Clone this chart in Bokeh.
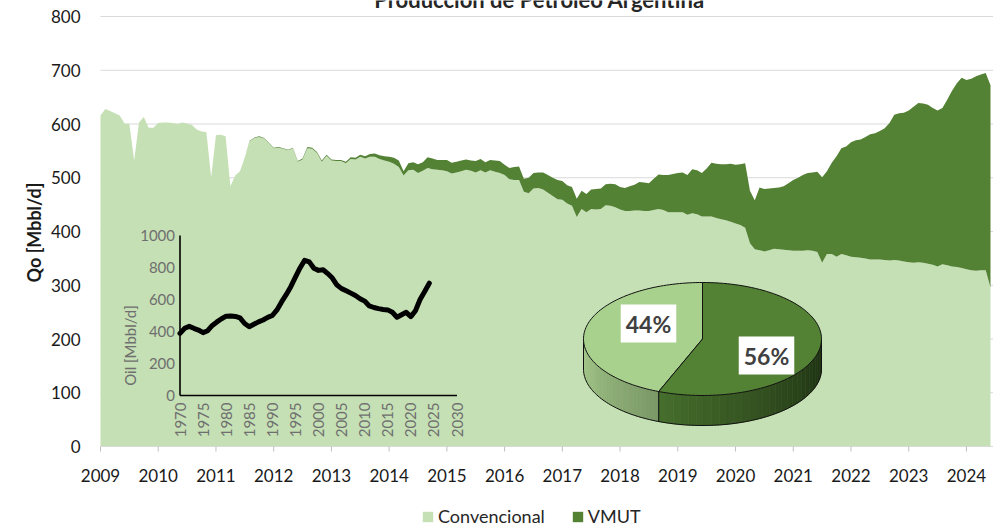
import numpy as np
from bokeh.plotting import figure
from bokeh.models import Range1d, Legend, LegendItem, Label
from bokeh.core.properties import value
from bokeh.embed import file_html
from bokeh.resources import INLINE

FONT = "Lato"

# ---------------- data ----------------
# monthly production, Mbbl/d, Jan-2009 .. Jun-2024
total = [
    616, 628, 624, 620, 616, 601, 600, 532, 603, 613, 593, 593,   # 2009
    602, 603, 603, 602, 600, 603, 601, 598, 590, 586, 585, 501,   # 2010
    579, 580, 577, 484, 504, 512, 538, 569, 575, 577, 574, 565,   # 2011
    556, 557, 555, 552, 556, 531, 536, 557, 556, 548, 532, 543,   # 2012
    534, 533, 533, 530, 538, 537, 543, 540, 544, 545, 542, 540,   # 2013
    539, 537, 532, 512, 527, 529, 525, 529, 538, 536, 533, 533,   # 2014
    533, 528, 530, 532, 534, 532, 531, 535, 529, 533, 532, 531,   # 2015
    524, 518, 520, 521, 498, 500, 509, 510, 510, 505, 500, 496,   # 2016
    494, 486, 483, 461, 476, 470, 478, 479, 480, 488, 489, 488,   # 2017
    483, 481, 484, 487, 492, 491, 490, 498, 506, 505, 505, 507,   # 2018
    509, 510, 505, 516, 514, 509, 517, 528, 526, 525, 525, 526,   # 2019
    524, 525, 527, 476, 458, 482, 479, 480, 481, 482, 484, 490,   # 2020
    496, 500, 505, 509, 510, 511, 501, 512, 528, 540, 555, 558,   # 2021
    566, 570, 571, 576, 581, 583, 587, 592, 602, 617, 620, 621,   # 2022
    625, 632, 639, 638, 636, 630, 625, 630, 645, 662, 676, 686,   # 2023
    682, 684, 689, 692, 695, 672,                                 # 2024
]
convencional = [
    616, 628, 624, 620, 616, 601, 600, 532, 603, 613, 593, 593,   # 2009
    602, 603, 603, 602, 600, 603, 601, 598, 590, 586, 585, 501,   # 2010
    579, 580, 577, 484, 504, 512, 538, 568, 574, 576, 573, 564,   # 2011
    555, 556, 554, 551, 555, 530, 534, 555, 554, 546, 530, 541,   # 2012
    532, 531, 531, 527, 535, 534, 539, 536, 539, 539, 535, 532,   # 2013
    530, 526, 520, 504, 514, 515, 509, 513, 518, 516, 515, 514,   # 2014
    512, 508, 510, 512, 515, 513, 510, 514, 510, 514, 511, 509,   # 2015
    505, 497, 496, 496, 474, 471, 480, 481, 478, 472, 466, 460,   # 2016
    459, 452, 448, 427, 442, 436, 442, 441, 442, 449, 448, 445,   # 2017
    441, 438, 438, 439, 439, 438, 438, 440, 442, 440, 436, 436,   # 2018
    436, 436, 431, 434, 432, 428, 428, 428, 425, 423, 421, 418,   # 2019
    415, 412, 407, 378, 367, 365, 363, 365, 368, 367, 366, 365,   # 2020
    364, 364, 364, 365, 364, 362, 342, 358, 358, 353, 358, 356,   # 2021
    353, 352, 351, 350, 348, 348, 348, 347, 346, 347, 346, 344,   # 2022
    343, 342, 343, 342, 340, 338, 335, 339, 337, 335, 334, 332,   # 2023
    330, 328, 327, 328, 328, 296,                                 # 2024
]
start_year = 2009
x_tick_years = list(range(2009, 2025))
y_ticks = list(range(0, 801, 100))

# inset: historical Argentina oil production, Mbbl/d
inset_years = list(range(1970, 2025))
inset_oil = [
    388, 420, 432, 420, 409, 393, 405, 438, 460, 480,
    496, 497, 494, 485, 450, 430, 445, 460, 472, 488,
    500, 535, 585, 630, 680, 740, 797, 845, 835, 795,
    782, 786, 762, 734, 690, 668, 655, 640, 625, 605,
    590, 560, 550, 543, 538, 535, 520, 489, 505, 520,
    493, 530, 600, 650, 702,
]
inset_x_ticks = list(range(1970, 2031, 5))
inset_y_ticks = list(range(0, 1001, 200))

# pie: share of last month
pie_names = ["Convencional", "VMUT"]
pie_values = [44, 56]

title_text = "Producción de Petróleo Argentina"
y_label = "Qo [Mbbl/d]"
inset_y_label = "Oil [Mbbl/d]"

# ---------------- colours ----------------
C_CONV = "#C5E0B4"
C_VMUT = "#548235"
C_PIE_LIGHT = "#A9D18E"
C_PIE_DARK = "#548235"
C_TEXT = "#1a1a1a"
C_GRID = "#D9D9D9"

# ---------------- geometry (canvas = frame, pixel anchors) ----------------
W, H = 993, 529
PLOT_LEFT, Y0_PIX, Y800_PIX = 100.0, 446.0, 16.0      # from top-left of picture
PX_PER_YEAR = 57.73
PX_PER_UNIT = (Y0_PIX - Y800_PIX) / 800.0

x0 = start_year - PLOT_LEFT / PX_PER_YEAR
x1 = x0 + W / PX_PER_YEAR
y0 = -(H - Y0_PIX) / PX_PER_UNIT
y1 = y0 + H / PX_PER_UNIT

p = figure(width=W, height=H, output_backend="svg", toolbar_location=None,
           title=None, x_range=Range1d(x0, x1), y_range=Range1d(y0, y1),
           x_axis_location=None, y_axis_location=None,
           min_border_left=0, min_border_right=0, min_border_top=0, min_border_bottom=0)
p.outline_line_color = None
p.background_fill_color = "white"
p.border_fill_color = "white"
p.grid.visible = False

# inset ranges and a plain pixel range (origin bottom-left of picture)
ix_a, ix_pix, ix_ppu = 1970, 179.5, 277.0 / 60.0
iy_pix, iy_ppu = 395.0, 0.16
ix0 = ix_a - ix_pix / ix_ppu
iy0 = -(H - iy_pix) / iy_ppu
p.extra_x_ranges = {"ix": Range1d(ix0, ix0 + W / ix_ppu), "px": Range1d(0, W)}
p.extra_y_ranges = {"iy": Range1d(iy0, iy0 + H / iy_ppu), "py": Range1d(0, H)}

# ---------------- grid ----------------
grid_vals = y_ticks[1:]
p.segment(x0=[start_year] * len(grid_vals), y0=grid_vals, x1=[x1] * len(grid_vals),
          y1=grid_vals, line_color=C_GRID, line_width=1)

# ---------------- main areas ----------------
mx = start_year + np.arange(len(total)) / 12.0
r_conv = p.varea(x=mx, y1=0, y2=convencional, fill_color=C_CONV)
r_vmut = p.varea(x=mx, y1=convencional, y2=total, fill_color=C_VMUT)

# ---------------- axes (drawn) ----------------
tick_len = 5.0 / PX_PER_UNIT
p.segment(x0=[start_year], y0=[0], x1=[x1], y1=[0], line_color=C_GRID, line_width=1)
p.segment(x0=x_tick_years, y0=[0] * len(x_tick_years), x1=x_tick_years,
          y1=[-tick_len] * len(x_tick_years), line_color="#BFBFBF", line_width=1)
p.text(x=x_tick_years, y=[0] * len(x_tick_years), text=[str(v) for v in x_tick_years],
       y_offset=29, text_align="center", text_baseline="middle",
       text_font=value(FONT), text_font_size=value("17px"), text_color=C_TEXT)
p.text(x=[start_year] * len(y_ticks), y=y_ticks, text=[str(v) for v in y_ticks],
       x_offset=-20, text_align="right", text_baseline="middle",
       text_font=value(FONT), text_font_size=value("17px"), text_color=C_TEXT)
p.text(x=[33], y=[H - 232], text=[y_label], x_range_name="px", y_range_name="py",
       angle=np.pi / 2, text_align="center", text_baseline="middle",
       text_font=value(FONT), text_font_size=value("18px"), text_font_style="bold",
       text_color=C_TEXT)

# ---------------- title (clipped at the top, as in the source) ----------------
p.text(x=[539], y=[H + 1], text=[title_text], x_range_name="px", y_range_name="py",
       text_align="center", text_baseline="alphabetic", text_font=value(FONT),
       text_font_size=value("22px"), text_font_style="bold", text_color="#262626")

# ---------------- inset chart ----------------
grey = "#6f6f6f"
p.segment(x0=[inset_x_ticks[0], inset_x_ticks[0]], y0=[inset_y_ticks[0], inset_y_ticks[0]],
          x1=[inset_x_ticks[0], inset_x_ticks[-1]], y1=[inset_y_ticks[-1], inset_y_ticks[0]],
          x_range_name="ix", y_range_name="iy", line_color="black", line_width=1.6)
p.line(inset_years, inset_oil, x_range_name="ix", y_range_name="iy",
       line_color="black", line_width=5, line_join="round", line_cap="round")
p.text(x=[inset_x_ticks[0]] * len(inset_y_ticks), y=inset_y_ticks,
       text=[str(v) for v in inset_y_ticks], x_range_name="ix", y_range_name="iy",
       x_offset=-5, text_align="right", text_baseline="middle",
       text_font=value(FONT), text_font_size=value("15px"), text_color=grey)
p.text(x=inset_x_ticks, y=[inset_y_ticks[0]] * len(inset_x_ticks),
       text=[str(v) for v in inset_x_ticks], x_range_name="ix", y_range_name="iy",
       y_offset=7, angle=np.pi / 2, text_align="right", text_baseline="middle",
       text_font=value(FONT), text_font_size=value("15px"), text_color=grey)
p.text(x=[129], y=[H - 345], text=[inset_y_label], x_range_name="px", y_range_name="py",
       angle=np.pi / 2, text_align="center", text_baseline="middle",
       text_font=value(FONT), text_font_size=value("15px"), text_color=grey)

# ---------------- 3D pie ----------------
cx, cy, rx, ry, depth = 702.0, H - 338.5, 119.0, 56.5, 30.0
frac = np.array(pie_values, dtype=float) / sum(pie_values)
a_split = 90.0 + 360.0 * frac[0]           # light slice: 90 -> a_split (ccw)


def ell(a_deg, dz=0.0):
    t = np.radians(a_deg)
    return cx + rx * np.cos(t), cy + ry * np.sin(t) - dz


def mix(c0, c1, t):
    return "#%02x%02x%02x" % tuple(int(round(a + (b - a) * t)) for a, b in zip(c0, c1))


side_xs, side_ys, side_cols = [], [], []
for a0, a1, c0, c1 in [(180.0, a_split, (168, 204, 142), (122, 152, 102)),
                       (a_split, 360.0, (70, 110, 44), (27, 45, 17))]:
    n = 30
    angs = np.linspace(a0, a1, n + 1)
    for k in range(n):
        xa, ya = ell(angs[k]); xb, yb = ell(angs[k + 1])
        xc, yc = ell(angs[k + 1], depth); xd, yd = ell(angs[k], depth)
        side_xs.append([xa, xb, xc, xd]); side_ys.append([ya, yb, yc, yd])
        side_cols.append(mix(c0, c1, (k + 0.5) / n))
p.patches(side_xs, side_ys, fill_color=side_cols, line_color=side_cols, line_width=0.6,
          x_range_name="px", y_range_name="py")

angs = np.linspace(180.0, 360.0, 120)
bx, by = ell(angs, depth)
p.line(bx, by, line_color="#111111", line_width=1, x_range_name="px", y_range_name="py")
edges_x, edges_y = [], []
for a in (180.0, a_split, 360.0):
    x_t, y_t = ell(a); x_b, y_b = ell(a, depth)
    edges_x.append([x_t, x_b]); edges_y.append([y_t, y_b])
p.multi_line(edges_x, edges_y, line_color="#111111", line_width=1,
             x_range_name="px", y_range_name="py")

top_xs, top_ys = [], []
for a0, a1 in [(90.0, a_split), (90.0 - 360.0 * frac[1], 90.0)]:
    angs = np.linspace(a0, a1, 100)
    ex, ey = ell(angs)
    top_xs.append([cx] + list(ex)); top_ys.append([cy] + list(ey))
p.patches(top_xs, top_ys, fill_color=[C_PIE_LIGHT, C_PIE_DARK], line_color="#111111",
          line_width=1, x_range_name="px", y_range_name="py")

label_pos = [(648, H - 323), (766, H - 355)]
for (lx, ly), v in zip(label_pos, pie_values):
    p.add_layout(Label(x=lx, y=ly, x_range_name="px", y_range_name="py", text=f"{v}%",
                       text_align="center", text_baseline="middle", text_font=FONT,
                       text_font_size="23px", text_font_style="bold", text_color="#404040",
                       background_fill_color="white", padding=5))

# ---------------- legend ----------------
legend = Legend(items=[LegendItem(label=pie_names[0], renderers=[r_conv]),
                       LegendItem(label=pie_names[1], renderers=[r_vmut])],
                location=(421, 2), orientation="horizontal", glyph_width=13,
                glyph_height=13, label_standoff=4, spacing=26, padding=0, margin=0,
                border_line_color=None, background_fill_alpha=0,
                label_text_font=FONT, label_text_font_size="18px",
                label_text_color="#262626")
p.add_layout(legend)

open("out.html", "w").write(file_html(p, INLINE))
